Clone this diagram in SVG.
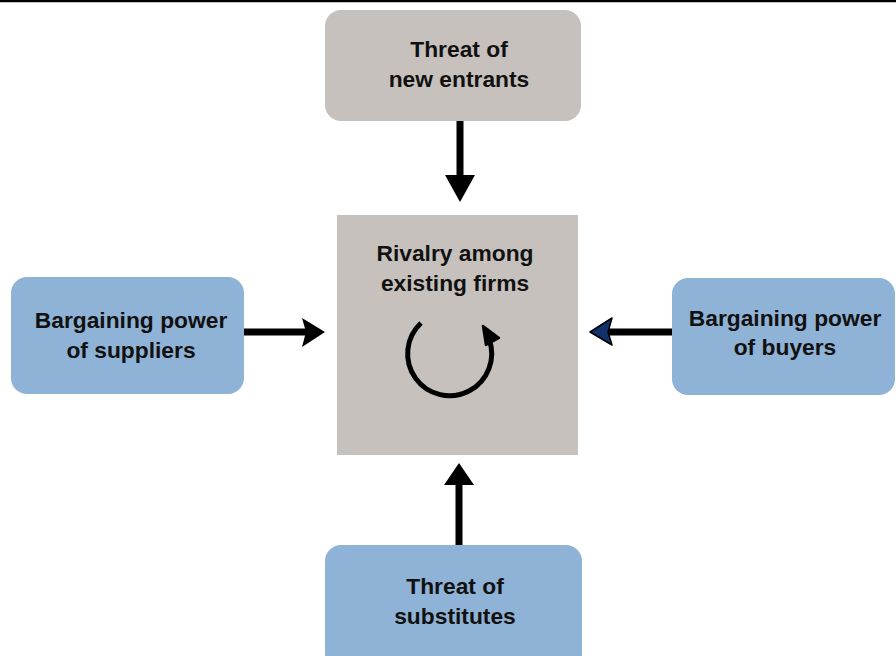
<svg xmlns="http://www.w3.org/2000/svg" width="896" height="656" viewBox="0 0 896 656">
<style>
.gray{fill:#c6c1bc}
.blue{fill:#8fb3d6}
text{font-family:"Liberation Sans",Arial,sans-serif;font-weight:bold;font-size:22.8px;fill:#111;text-anchor:middle}
.conn{stroke:#000;stroke-width:7;fill:none}
.head{fill:#000}
</style>
<rect width="896" height="656" fill="#fff"/>
<line x1="0" y1="1" x2="896" y2="1" stroke="#000" stroke-width="2.5"/>
<g id="entrants">
<rect class="gray" x="325" y="10" width="256" height="111" rx="16"/>
<text x="459" y="57">Threat of</text>
<text x="459" y="87">new entrants</text>
</g>
<g id="rivalry">
<rect class="gray" x="337" y="215" width="241" height="240"/>
<text x="455" y="261">Rivalry among</text>
<text x="455" y="291">existing firms</text>
<path d="M421,323 A42,42 0 1 0 489,339" fill="none" stroke="#000" stroke-width="5"/>
<polygon points="483,326 499,338 486,345" fill="#000" stroke="#000" stroke-width="2.5" stroke-linejoin="round"/>
</g>
<g id="suppliers">
<rect class="blue" x="11" y="277" width="233" height="117" rx="16"/>
<text x="131" y="328">Bargaining power</text>
<text x="131" y="358">of suppliers</text>
</g>
<g id="buyers">
<rect class="blue" x="672" y="278" width="223" height="117" rx="16"/>
<text x="785" y="326">Bargaining power</text>
<text x="785" y="355">of buyers</text>
</g>
<g id="substitutes">
<rect class="blue" x="325" y="545" width="257" height="125" rx="16"/>
<text x="455" y="594">Threat of</text>
<text x="455" y="624">substitutes</text>
</g>
<g id="connectors">
<line class="conn" x1="460" y1="121" x2="460" y2="180"/>
<polygon class="head" points="445,175 475,175 460,202"/>
<line class="conn" x1="459" y1="545" x2="459" y2="480"/>
<polygon class="head" points="444,485 474,485 459,463"/>
<line class="conn" x1="244" y1="332" x2="306" y2="332"/>
<polygon class="head" points="302,318 325,332 302,347 306,332"/>
<line class="conn" x1="672" y1="332" x2="608" y2="332"/>
<polygon points="612,318 590,332 612,345 608,332" fill="#12306a" stroke="#000" stroke-width="1.5" stroke-linejoin="round"/>
</g>
</svg>
